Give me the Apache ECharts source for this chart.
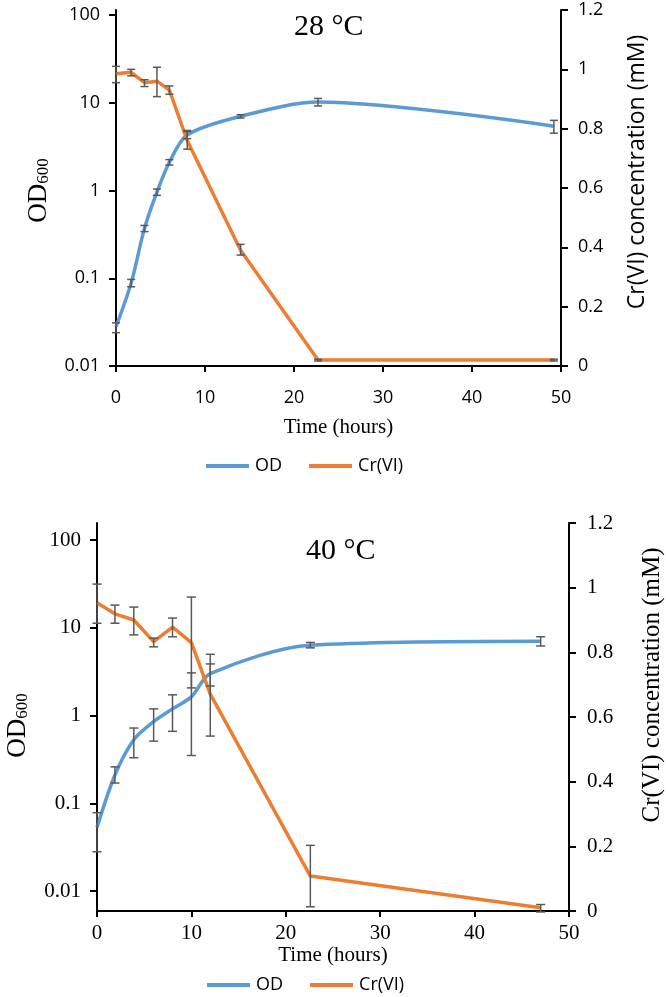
<!DOCTYPE html>
<html><head><meta charset="utf-8">
<script src="https://cdn.jsdelivr.net/npm/echarts@6/dist/echarts.min.js"></script>
<style>html,body{margin:0;padding:0;background:#fff}#c{width:666px;height:997px}</style>
</head><body><div id="c"></div>
<script>
// ---- 28 °C panel ----
const time28 = [0, 1.7, 3.2, 4.6, 6, 8, 14, 22.7, 49.2];
const od28 = [0.028, 0.088, 0.37, 0.96, 2.1, 4.3, 7.0, 10.2, 5.4];
const od28Low = [0.024, 0.080, 0.34, 0.88, 1.95, 3.9, 6.7, 9.2, 4.5];
const od28High = [0.031, 0.097, 0.40, 1.04, 2.25, 4.7, 7.3, 11.2, 6.3];
const cr28 = [0.985, 0.99, 0.955, 0.96, 0.93, 0.76, 0.39, 0.02, 0.02];
const cr28Low = [0.955, 0.978, 0.942, 0.908, 0.916, 0.731, 0.374, 0.017, 0.017];
const cr28High = [1.01, 1.0, 0.965, 1.007, 0.944, 0.794, 0.41, 0.023, 0.023];
// ---- 40 °C panel ----
const time40 = [0, 1.9, 3.9, 6, 8, 10, 12, 22.6, 47];
const od40 = [0.053, 0.21, 0.53, 0.85, 1.19, 1.63, 3.0, 6.3, 7.0];
const od40Low = [0.028, 0.17, 0.33, 0.51, 0.66, 0.35, 2.17, 5.9, 6.2];
const od40High = [0.078, 0.26, 0.72, 1.19, 1.72, 3.06, 3.87, 6.8, 7.9];
const cr40 = [0.953, 0.919, 0.90, 0.833, 0.878, 0.83, 0.671, 0.108, 0.01];
const cr40Low = [0.89, 0.89, 0.854, 0.817, 0.848, 0.69, 0.541, 0.013, -0.003];
const cr40High = [1.011, 0.946, 0.94, 0.844, 0.906, 0.971, 0.794, 0.203, 0.02];
// ---- axis ticks ----
const logTicks = [0.01, 0.1, 1, 10, 100];
const crTicks = [0, 0.2, 0.4, 0.6, 0.8, 1, 1.2];
const timeTicks = [0, 10, 20, 30, 40, 50];
const seriesNames = ['OD', 'Cr(VI)'];
const panelTitles = ['28 °C', '40 °C'];

const BLUE = '#5B9BD5', ORANGE = '#ED7D31', ERR = '#595959';
const SANS = 'Open Sans', SERIF = 'Liberation Serif';

function errSeries(xi, yi, times, lo, hi, w, cap) {
  return {
    type: 'custom', xAxisIndex: xi, yAxisIndex: yi, z: 6, silent: true,
    data: times.map((t, i) => [t, lo[i], hi[i]]),
    encode: { x: 0, y: [1, 2] },
    renderItem: (params, api) => {
      const x = api.value(0);
      const a = api.coord([x, api.value(1)]);
      const b = api.coord([x, api.value(2)]);
      const h = cap / 2;
      const style = { stroke: ERR, lineWidth: w };
      return { type: 'group', children: [
        { type: 'line', shape: { x1: a[0], y1: a[1], x2: b[0], y2: b[1] }, style },
        { type: 'line', shape: { x1: a[0] - h, y1: a[1], x2: a[0] + h, y2: a[1] }, style },
        { type: 'line', shape: { x1: b[0] - h, y1: b[1], x2: b[0] + h, y2: b[1] }, style }
      ] };
    }
  };
}
const pairs = (t, v) => t.map((x, i) => [x, v[i]]);
const fmtNum = v => String(+Number(v).toPrecision(4));

function panel(p) {
  const f = p.font;
  const xHidden = { type: 'value', gridIndex: p.g, min: 0, max: 50, show: false };
  const xVis = {
    type: 'value', gridIndex: p.g + 1, min: timeTicks[0], max: timeTicks[timeTicks.length - 1], interval: 10,
    axisLine: { onZero: false, lineStyle: { color: '#000', width: 2 } },
    axisTick: { length: 6, lineStyle: { color: '#000', width: 2 } },
    splitLine: { show: false },
    axisLabel: { color: '#000', fontFamily: f, fontSize: p.tickSize, margin: p.xMargin, formatter: fmtNum },
    name: 'Time (hours)', nameLocation: 'middle', nameGap: p.xNameGap,
    nameTextStyle: { color: '#000', fontFamily: SERIF, fontSize: p.xNameSize }
  };
  const yLog = {
    type: 'log', logBase: 10, gridIndex: p.g, min: logTicks[0], max: logTicks[logTicks.length - 1],
    axisLine: { show: false, onZero: false },
    axisTick: { length: 7, lineStyle: { color: '#000', width: 2 } },
    splitLine: { show: false }, minorTick: { show: false },
    axisLabel: { color: '#000', fontFamily: f, fontSize: p.tickSize, margin: p.yMargin, formatter: fmtNum },
    name: '{a|OD}{b|600}', nameLocation: 'middle', nameRotate: 90, nameGap: p.odGap,
    nameTextStyle: {
      padding: p.odPad,
      rich: {
        a: { fontFamily: SERIF, fontSize: p.odSize, color: '#000', lineHeight: p.odSize + 4, verticalAlign: 'bottom' },
        b: { fontFamily: SERIF, fontSize: Math.round(p.odSize * 0.62), color: '#000', lineHeight: Math.round(p.odSize * 0.62), verticalAlign: 'bottom' }
      }
    }
  };
  const yLine = {
    type: 'value', gridIndex: p.g + 1, position: 'left', min: 0, max: 1.2,
    axisLine: { show: true, onZero: false, lineStyle: { color: '#000', width: 2 } },
    axisTick: { show: false }, axisLabel: { show: false }, splitLine: { show: false }
  };
  const yCr = {
    type: 'value', gridIndex: p.g + 1, position: 'right', min: crTicks[0], max: crTicks[crTicks.length - 1], interval: 0.2,
    axisLine: { show: true, onZero: false, lineStyle: { color: '#000', width: 2 } },
    axisTick: { length: 7, lineStyle: { color: '#000', width: 2 } },
    splitLine: { show: false },
    axisLabel: { color: '#000', fontFamily: f, fontSize: p.tickSize, margin: p.rMargin, formatter: fmtNum },
    name: 'Cr(VI) concentration (mM)', nameLocation: 'middle', nameRotate: 90, nameGap: p.crGap,
    nameTextStyle: { color: '#000', fontFamily: p.crFont, fontSize: p.crSize, padding: p.crPad }
  };
  return { xAxis: [xHidden, xVis], yAxis: [yLog, yLine, yCr] };
}

const P1 = panel({ g: 0, font: SANS, tickSize: 18, xMargin: 23, yMargin: 16, rMargin: 17, xNameGap: 51, xNameSize: 21,
  odGap: 64, odSize: 27, odPad: [0, 0, 0, 0], crGap: 65, crFont: SANS, crSize: 23, crPad: [0, 0, 0, 32] });
const P2 = panel({ g: 2, font: SERIF, tickSize: 21, xMargin: 12, yMargin: 16, rMargin: 18, xNameGap: 29, xNameSize: 21,
  odGap: 66, odSize: 27, odPad: [0, 20, 0, 0], crGap: 71, crFont: SERIF, crSize: 25, crPad: [0, 0, 0, 64] });

const legendBase = {
  data: seriesNames, icon: 'rect', itemWidth: 43, itemHeight: 4, itemGap: 27, padding: 0,
  textStyle: { fontFamily: SANS, fontSize: 18, color: '#000', padding: [0, 0, 0, 1] }
};

const option = {
  animation: false,
  backgroundColor: '#fff',
  title: [
    { text: panelTitles[0], left: 294, top: 12, padding: 0, textStyle: { fontFamily: SERIF, fontSize: 30, fontWeight: 'normal', color: '#000' } },
    { text: panelTitles[1], left: 306, top: 536, padding: 0, textStyle: { fontFamily: SERIF, fontSize: 30, fontWeight: 'normal', color: '#000' } }
  ],
  legend: [
    Object.assign({}, legendBase, { left: 206, top: 457 }),
    Object.assign({}, legendBase, { left: 207, top: 976 })
  ],
  grid: [
    { left: 116, right: 105, top: 15, height: 351, outerBoundsMode: 'none', containLabel: false },
    { left: 116, right: 105, top: 10, height: 356, outerBoundsMode: 'none', containLabel: false },
    { left: 97, right: 97, top: 540, height: 351, outerBoundsMode: 'none', containLabel: false },
    { left: 97, right: 97, top: 523, height: 388, outerBoundsMode: 'none', containLabel: false }
  ],
  xAxis: [...P1.xAxis, ...P2.xAxis],
  yAxis: [...P1.yAxis, ...P2.yAxis],
  series: [
    { name: seriesNames[0], type: 'line', xAxisIndex: 0, yAxisIndex: 0, data: pairs(time28, od28), smooth: 0.3,
      symbol: 'none', lineStyle: { color: BLUE, width: 3.5 }, itemStyle: { color: BLUE }, z: 3 },
    { name: seriesNames[1], type: 'line', xAxisIndex: 1, yAxisIndex: 2, data: pairs(time28, cr28),
      symbol: 'none', lineStyle: { color: ORANGE, width: 3.5 }, itemStyle: { color: ORANGE }, z: 4 },
    errSeries(0, 0, time28, od28Low, od28High, 1.5, 8),
    errSeries(1, 2, time28, cr28Low, cr28High, 1.5, 8),
    { name: seriesNames[0], type: 'line', xAxisIndex: 2, yAxisIndex: 3, data: pairs(time40, od40), smooth: 0.3,
      symbol: 'none', lineStyle: { color: BLUE, width: 3.5 }, itemStyle: { color: BLUE }, z: 3 },
    { name: seriesNames[1], type: 'line', xAxisIndex: 3, yAxisIndex: 5, data: pairs(time40, cr40),
      symbol: 'none', lineStyle: { color: ORANGE, width: 3.5 }, itemStyle: { color: ORANGE }, z: 4 },
    errSeries(2, 3, time40, od40Low, od40High, 1.5, 9),
    errSeries(3, 5, time40, cr40Low, cr40High, 1.5, 9)
  ]
};
const chart = echarts.init(document.getElementById('c'), null, { renderer: 'canvas' });
chart.setOption(option);
</script>
</body></html>
